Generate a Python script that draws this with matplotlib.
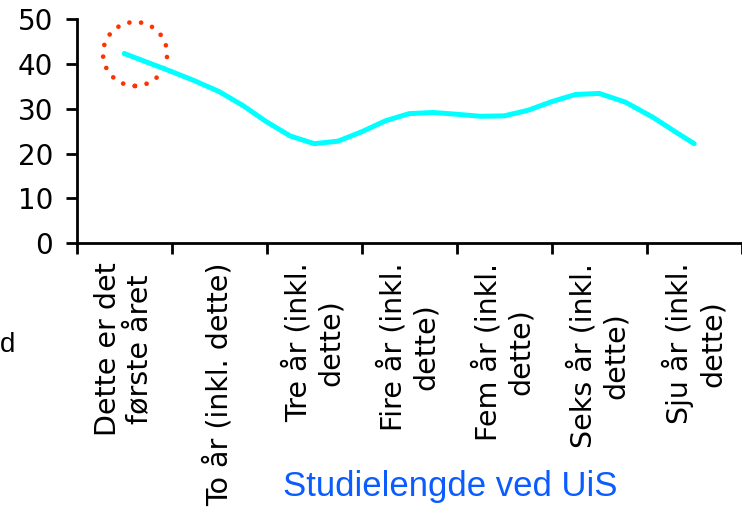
import numpy as np
import matplotlib
matplotlib.use("Agg")
from matplotlib import pyplot as plt
from matplotlib.patches import Ellipse

# data
categories = ["Dette er det\nførste året", "To år (inkl. dette)", "Tre år (inkl.\ndette)",
              "Fire år (inkl.\ndette)", "Fem år (inkl.\ndette)", "Seks år (inkl.\ndette)",
              "Sju år (inkl.\ndette)"]
values = [42.3, 33.8, 22.2, 28.9, 28.4, 33.4, 22.2]
y_ticks = [0, 10, 20, 30, 40, 50]


def smooth(xs, ys, n=5):
    # bezier smoothing like a spreadsheet "smoothed line", drawn with few segments
    xs = np.asarray(xs, float)
    ys = np.asarray(ys, float)
    px, py = [], []
    for i in range(len(xs) - 1):
        x0, y0 = xs[i], ys[i]
        x3, y3 = xs[i + 1], ys[i + 1]
        xa, ya = (xs[i - 1], ys[i - 1]) if i > 0 else (x0, y0)
        xb, yb = (xs[i + 2], ys[i + 2]) if i + 2 < len(xs) else (x3, y3)
        x1, y1 = x0 + (x3 - xa) / 6, y0 + (y3 - ya) / 6
        x2, y2 = x3 - (xb - x0) / 6, y3 - (yb - y0) / 6
        t = np.linspace(0, 1, n)
        if i > 0:
            t = t[1:]
        px.append((1-t)**3*x0 + 3*(1-t)**2*t*x1 + 3*(1-t)*t**2*x2 + t**3*x3)
        py.append((1-t)**3*y0 + 3*(1-t)**2*t*y1 + 3*(1-t)*t**2*y2 + t**3*y3)
    return np.concatenate(px), np.concatenate(py)


plt.rcParams['font.family'] = ['DejaVu Sans']
fig = plt.figure(figsize=(7.42, 5.14), dpi=100)
ax = fig.add_axes([0.1034, 0.5267, 0.8962, 0.4364])

x = np.arange(len(values))
sx, sy = smooth(x, values)
ax.plot(sx, sy, color='#00FFFF', lw=3.6, solid_capstyle='round', solid_joinstyle='round')

ax.add_patch(Ellipse((0.114, 42.2), 0.674, 14.27, fill=False, edgecolor='#FF3300',
                     lw=3.4, linestyle=(0, (0.001, 2.5)), capstyle='round'))

ax.set_xlim(-0.5, len(values) - 0.5)
ax.set_ylim(0, 50)
ax.set_yticks(y_ticks)
ax.set_xticks(np.arange(len(values) + 1) - 0.5)
ax.set_xticklabels([])
ax.set_xticks(x, minor=True)
ax.set_xticklabels(categories, minor=True, rotation=90, fontsize=20.5,
                   ha='center', va='top', multialignment='center')
ax.tick_params(axis='x', which='minor', length=0, pad=14)
ax.tick_params(axis='both', which='major', length=8, width=2, direction='out', color='black')
ax.tick_params(axis='y', labelsize=20, pad=9)

for s in ['top', 'right']:
    ax.spines[s].set_visible(False)
for s in ['left', 'bottom']:
    ax.spines[s].set_linewidth(2)

fig.text(450 / 742, 1 - 496 / 514, "Studielengde ved UiS", color='#0A5CFF',
         fontsize=25, family='Liberation Sans', ha='center', va='baseline')
fig.text(15 / 742, 1 - 345 / 514, "d", fontsize=20, family='Liberation Sans',
         ha='right', va='center')

fig.savefig("out.png", dpi=100)
